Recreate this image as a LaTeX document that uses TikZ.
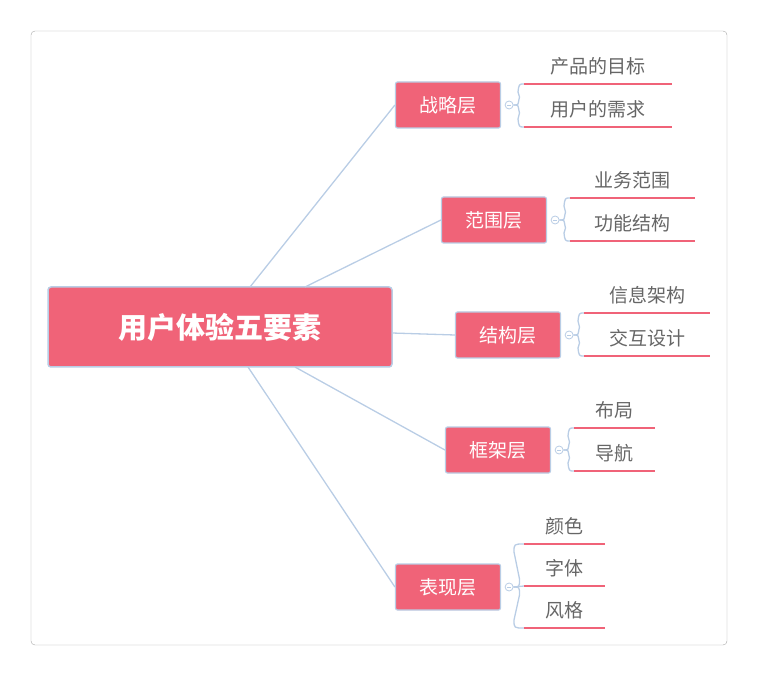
\documentclass[tikz,border=0pt]{standalone}
\usetikzlibrary{calc}
\usepackage{fontspec}
\newfontfamily\cjk{Noto Sans CJK SC}
\definecolor{pk}{HTML}{F06378}
\definecolor{ln}{HTML}{B9CDE5}
\definecolor{tx}{HTML}{666666}
\begin{document}
\begin{tikzpicture}[x=1pt,y=-1pt,
  rootbox/.style={fill=pk,draw=ln,line width=1.5pt,rounded corners=3pt,minimum width=344pt,minimum height=80pt,text=white,font=\cjk\fontsize{29}{32}\selectfont\bfseries},
  mainbox/.style={fill=pk,draw=ln,line width=1.2pt,rounded corners=2pt,minimum width=105pt,minimum height=46pt,text=white,font=\cjk\fontsize{19}{22}\selectfont},
  leaf/.style={text=tx,font=\cjk\fontsize{19}{22}\selectfont,anchor=center},
  uline/.style={draw=pk,line width=2pt},
  link/.style={draw=ln,line width=1.3pt},
  knob/.style={circle,draw=ln,fill=white,inner sep=0pt,minimum size=8pt,line width=0.8pt}]
\useasboundingbox (0,0) rectangle (758,676);
\draw[gray!70,rounded corners=4pt] (31,31) rectangle (727,645);
\node[rootbox] (root) at (220,327) {用户体验五要素};
\coordinate (r1) at (250,287); \coordinate (r2) at (305,287);
\coordinate (r3) at (392,333); \coordinate (r4) at (295,367); \coordinate (r5) at (248,367);
\foreach \n/\t/\x/\y/\rs in {a/战略层/448/105/r1,b/范围层/494/220/r2,c/结构层/508/335/r3,d/框架层/498/450/r4,e/表现层/448/587/r5}{
  \node[mainbox] (\n) at (\x,\y) {\t};
  \draw[link] (\rs) .. controls ($(\rs)!0.5!(\n.west)$ |- \n.west) .. (\n.west);
  \node[knob] (\n k) at ($(\n.east)+(8,0)$) {};
  \draw[ln,line width=0.6pt] ($(\n k)+(-2,0)$) -- ($(\n k)+(2,0)$);
}
\newcommand\twoleaf[7]{%
  \coordinate (#1t) at (#2,#4); \coordinate (#1b) at (#2,#5);
  \draw[link] (#1k.east) .. controls ($(#1k.east)+(6,0)$) and ($(#1k.east)+(4,0)$) .. ($(#1k.east)+(6,-8)$) -- ($(#2,#4)+(-6,8)$) .. controls (#2-5,#4) .. (#1t);
  \draw[link] (#1k.east) .. controls ($(#1k.east)+(6,0)$) and ($(#1k.east)+(4,0)$) .. ($(#1k.east)+(6,8)$) -- ($(#2,#5)+(-6,-8)$) .. controls (#2-5,#5) .. (#1b);
  \draw[uline] (#1t) -- (#3,#4); \draw[uline] (#1b) -- (#3,#5);
  \node[leaf] (#1l1) at ({(#2+#3)/2},#4-18) {#6};
  \node[leaf] (#1l2) at ({(#2+#3)/2},#5-18) {#7};
}
\twoleaf{a}{524}{672}{84}{127}{产品的目标}{用户的需求}
\twoleaf{b}{570}{695}{198}{241}{业务范围}{功能结构}
\twoleaf{c}{584}{710}{313}{356}{信息架构}{交互设计}
\twoleaf{d}{574}{655}{428}{471}{布局}{导航}
\coordinate (et) at (524,544); \coordinate (em) at (524,586); \coordinate (eb) at (524,628);
\draw[link] (ek.east) -- (em);
\draw[link] (ek.east) .. controls ($(ek.east)+(6,0)$) .. ($(ek.east)+(6,-8)$) -- (514,552) .. controls (514,544) .. (et);
\draw[link] (ek.east) .. controls ($(ek.east)+(6,0)$) .. ($(ek.east)+(6,8)$) -- (514,620) .. controls (514,628) .. (eb);
\draw[uline] (et) -- (605,544); \draw[uline] (em) -- (605,586); \draw[uline] (eb) -- (605,628);
\node[leaf] (el1) at (564,526) {颜色};
\node[leaf] (el2) at (564,568) {字体};
\node[leaf] (el3) at (564,610) {风格};
\end{tikzpicture}
\end{document}
